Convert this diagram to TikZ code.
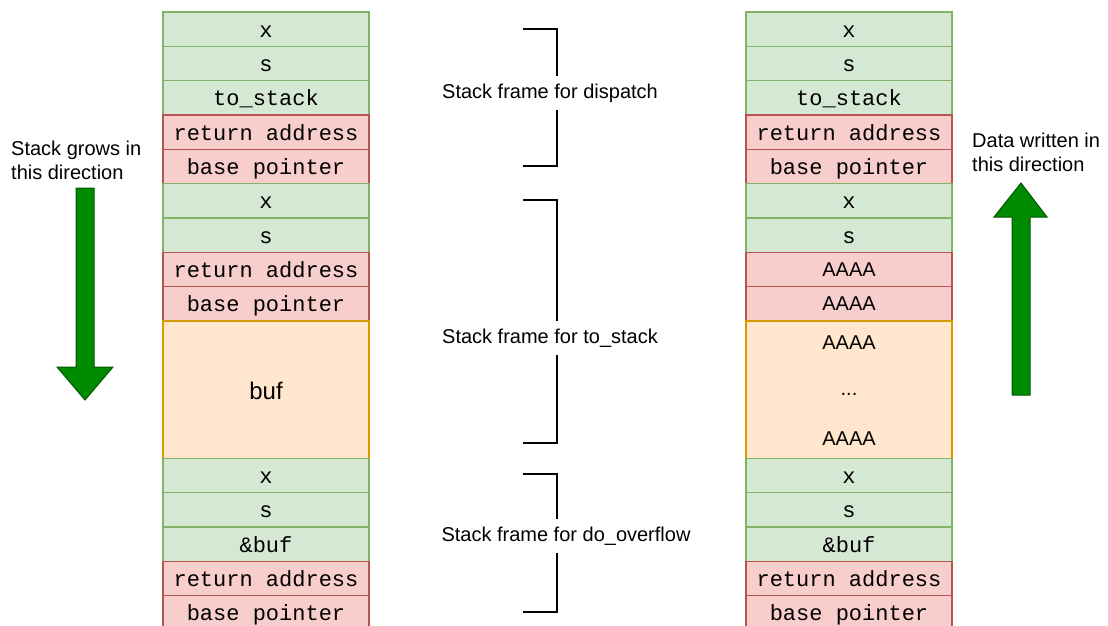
\documentclass[tikz,border=0pt]{standalone}
\usepackage{fontspec}
\setmainfont{Liberation Sans}
\newfontfamily\cellfont{Liberation Mono}

\definecolor{gfill}{HTML}{D5E8D4}
\definecolor{gline}{HTML}{82B366}
\definecolor{rfill}{HTML}{F8CECC}
\definecolor{rline}{HTML}{B85450}
\definecolor{ofill}{HTML}{FFE6CC}
\definecolor{oline}{HTML}{D79B00}
\definecolor{afill}{HTML}{008A00}
\definecolor{aline}{HTML}{005700}

\begin{document}
\begin{tikzpicture}[x=1pt, y=-1pt,
    cell/.style={draw, minimum width=206pt, minimum height=34.33pt, inner sep=0pt,
        line width=1.3pt, font=\cellfont\fontsize{22}{26}\selectfont,
        text height=20pt, text depth=4pt},
    gcell/.style={cell, fill=gfill, draw=gline},
    rcell/.style={cell, fill=rfill, draw=rline},
    ocell/.style={cell, fill=ofill, draw=oline, minimum height=137.33pt},
    sanstext/.style={font=\fontsize{20}{24}\selectfont},
    frametext/.style={sanstext, fill=white, inner xsep=2pt, inner ysep=8pt},
    bracket/.style={draw=black, line width=1.5pt},
    bigarrow/.style={fill=afill, draw=aline, line width=1pt}]

    \useasboundingbox (0,0) rectangle (1108,625);

    % Stack before the overflow
    \node[gcell] (l0) at (266,29.2) {x};
    \node[gcell] (l1) at (266,63.5) {s};
    \node[gcell] (l2) at (266,97.8) {to\_stack};
    \node[rcell] (l3) at (266,132.2) {return address};
    \node[rcell] (l4) at (266,166.5) {base pointer};
    \node[gcell] (l5) at (266,200.8) {x};
    \node[gcell] (l6) at (266,235.2) {s};
    \node[rcell] (l7) at (266,269.5) {return address};
    \node[rcell] (l8) at (266,303.8) {base pointer};
    \node[ocell, font=\fontsize{24}{28}\selectfont, text height=24pt] (l9) at (266,389.7) {buf};
    \node[gcell] (l10) at (266,475.5) {x};
    \node[gcell] (l11) at (266,509.8) {s};
    \node[gcell] (l12) at (266,544.2) {\&buf};
    \node[rcell] (l13) at (266,578.5) {return address};
    \node[rcell] (l14) at (266,612.8) {base pointer};

    % Stack after the overflow
    \node[gcell] (r0) at (849,29.2) {x};
    \node[gcell] (r1) at (849,63.5) {s};
    \node[gcell] (r2) at (849,97.8) {to\_stack};
    \node[rcell] (r3) at (849,132.2) {return address};
    \node[rcell] (r4) at (849,166.5) {base pointer};
    \node[gcell] (r5) at (849,200.8) {x};
    \node[gcell] (r6) at (849,235.2) {s};
    \node[rcell, sanstext, text height=18pt] (r7) at (849,269.5) {AAAA};
    \node[rcell, sanstext, text height=18pt] (r8) at (849,303.8) {AAAA};
    \node[ocell] (r9) at (849,389.7) {};
    \node[sanstext] (r9a) at (849,343) {AAAA};
    \node[sanstext] (r9b) at (849,394) {...};
    \node[sanstext] (r9c) at (849,439) {AAAA};
    \node[gcell] (r10) at (849,475.5) {x};
    \node[gcell] (r11) at (849,509.8) {s};
    \node[gcell] (r12) at (849,544.2) {\&buf};
    \node[rcell] (r13) at (849,578.5) {return address};
    \node[rcell] (r14) at (849,612.8) {base pointer};

    % Brackets for the frames
    \draw[bracket] (523,29) -- (557,29) -- (557,166) -- (523,166);
    \node[frametext] (fdispatch) at (550,93) {Stack frame for dispatch};
    \draw[bracket] (523,200) -- (557,200) -- (557,443) -- (523,443);
    \node[frametext] (ftostack) at (550,338) {Stack frame for to\_stack};
    \draw[bracket] (523,474) -- (557,474) -- (557,612) -- (523,612);
    \node[frametext] (foverflow) at (566,536) {Stack frame for do\_overflow};

    % Direction arrows
    \node[sanstext, align=left, anchor=west, inner sep=0pt] (grows) at (11,160)
        {Stack grows in\\this direction};
    \draw[bigarrow] (76,188) -- (94,188) -- (94,367) -- (113,367) -- (85,400)
        -- (57,367) -- (76,367) -- cycle;
    \node[sanstext, align=left, anchor=west, inner sep=0pt] (written) at (972,152)
        {Data written in\\this direction};
    \draw[bigarrow] (1012,395) -- (1030,395) -- (1030,217) -- (1047,217) -- (1021,183)
        -- (994,217) -- (1012,217) -- cycle;
\end{tikzpicture}
\end{document}
